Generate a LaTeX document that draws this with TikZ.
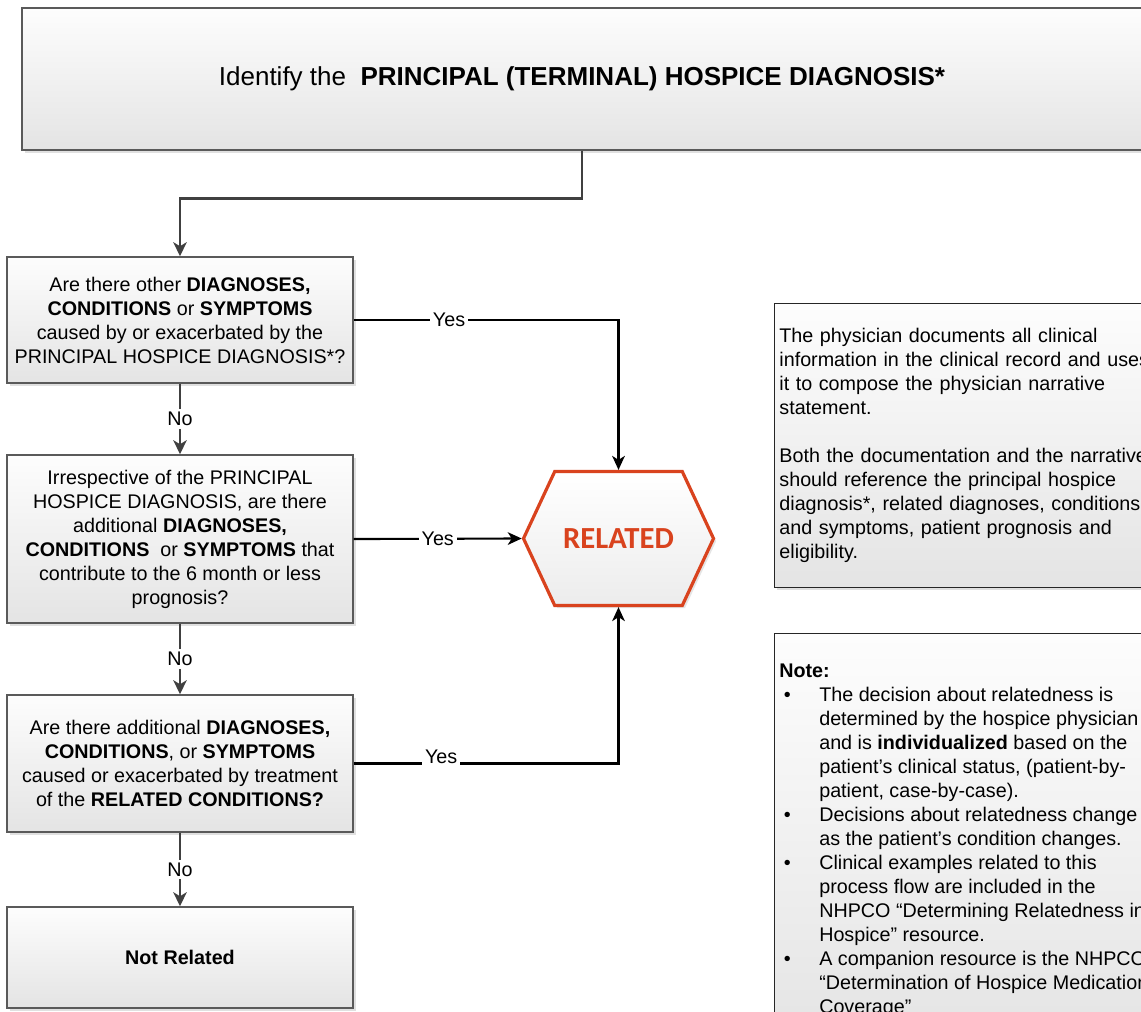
\documentclass[tikz,border=0pt]{standalone}
\usepackage{fontspec}
\setmainfont{Liberation Sans}
\newfontfamily\calfont{Carlito}
\usetikzlibrary{positioning, arrows.meta, shapes.symbols, shadows}
\definecolor{BoxGray}{HTML}{5A5A5A}
\definecolor{ArrowGray}{HTML}{404040}
\definecolor{RelatedRed}{HTML}{D9431E}
\definecolor{FillTop}{HTML}{FDFDFD}
\definecolor{FillBottom}{HTML}{E4E4E4}
\newcommand{\bul}{\makebox[30pt][l]{\hspace{3.5pt}\textbullet}}
\newcommand{\ind}{\hspace*{30pt}}

\begin{document}
\begin{tikzpicture}[x=0.75pt, y=-0.75pt,
    box/.style={rectangle, draw=BoxGray, line width=1.1pt, top color=FillTop, bottom color=FillBottom,
      drop shadow={shadow xshift=2pt, shadow yshift=-2pt, opacity=0.3, fill=black!40},
      align=center, inner sep=0pt, minimum width=259.5pt, font=\fontsize{14.8}{18}\selectfont},
    notebox/.style={box, draw=black!85, align=left, inner xsep=3.5pt, text width=290pt, anchor=north west},
    related/.style={signal, signal to=west and east, signal pointer angle=130, draw=RelatedRed, line width=2.4pt,
      top color=white, bottom color=FillBottom!70,
      drop shadow={shadow xshift=2pt, shadow yshift=-2pt, opacity=0.25, fill=black!40},
      minimum width=142.5pt, minimum height=100.5pt, inner sep=0pt,
      text=RelatedRed, font=\calfont\fontsize{23}{26}\selectfont\bfseries},
    noarrow/.style={-{Stealth[length=10.5pt, width=10pt, inset=3pt]}, line width=2.2pt, ArrowGray},
    yesarrow/.style={-{Stealth[length=10.5pt, width=9.5pt, inset=3pt]}, line width=1.6pt, black},
    lbl/.style={fill=white, inner sep=2pt, text=black, font=\fontsize{14.8}{18}\selectfont}
  ]
  \useasboundingbox (0,0) rectangle (1141,1011);
  \fill[white] (0,0) rectangle (1141,1011);

  % Boxes
  \node[box, minimum width=840pt, minimum height=106.5pt, font=\fontsize{19.5}{24}\selectfont] (identify) at (582,79)
    {Identify the\ \ \textbf{PRINCIPAL (TERMINAL) HOSPICE DIAGNOSIS*}};
  \node[box, minimum height=94.5pt] (q1) at (180,320)
    {Are there other \textbf{DIAGNOSES,}\\ \textbf{CONDITIONS} or \textbf{SYMPTOMS}\\ caused by or exacerbated by the\\ PRINCIPAL HOSPICE DIAGNOSIS*?};
  \node[box, minimum height=126pt] (q2) at (180,539)
    {Irrespective of the PRINCIPAL\\ HOSPICE DIAGNOSIS, are there\\ additional \textbf{DIAGNOSES,}\\ \textbf{CONDITIONS}\ \ or \textbf{SYMPTOMS} that\\ contribute to the 6 month or less\\ prognosis?};
  \node[box, minimum height=102.75pt] (q3) at (180,763.5)
    {Are there additional \textbf{DIAGNOSES,}\\ \textbf{CONDITIONS}, or \textbf{SYMPTOMS}\\ caused or exacerbated by treatment\\ of the \textbf{RELATED CONDITIONS?}};
  \node[box, minimum height=75.75pt] (notrel) at (180,957.5) {\textbf{Not Related}};
  \node[related] (related) at (618.5,538.5) {RELATED};

  % Notes
  \node[notebox, minimum height=213pt] (physician) at (774,303)
    {The physician documents all clinical\\ information in the clinical record and uses\\ it to compose the physician narrative\\ statement.\\[18pt]
     Both the documentation and the narrative\\ should reference the principal hospice\\ diagnosis*, related diagnoses, conditions\\ and symptoms, patient prognosis and\\ eligibility.};
  \node[notebox, minimum height=310pt] (note) at (774,633) {};
  \node[align=left, inner sep=0pt, anchor=north west, font=\fontsize{14.8}{18}\selectfont] (notetext) at (779,664)
    {\textbf{Note:}\\
     \bul The decision about relatedness is\\ \ind determined by the hospice physician\\ \ind and is \textbf{individualized} based on the\\ \ind patient’s clinical status, (patient-by-\\ \ind patient, case-by-case).\\
     \bul Decisions about relatedness change\\ \ind as the patient’s condition changes.\\
     \bul Clinical examples related to this\\ \ind process flow are included in the\\ \ind NHPCO “Determining Relatedness in\\ \ind Hospice” resource.\\
     \bul A companion resource is the NHPCO\\ \ind “Determination of Hospice Medication\\ \ind Coverage”};

  % Arrows
  \draw[noarrow] (identify.south) -- ++(0,48) -| (q1.north);
  \draw[noarrow] (q1) -- node[lbl] {No} (q2);
  \draw[noarrow] (q2) -- node[lbl] {No} (q3);
  \draw[noarrow] (q3) -- node[lbl] {No} (notrel);

  % Yes branches
  \draw[yesarrow] (q1.east) -| node[lbl, pos=0.18] {Yes} (related.north);
  \draw[yesarrow] (q2.east) -- node[lbl] {Yes} (related.west);
  \draw[yesarrow] (q3.east) -| node[lbl, anchor=base, pos=0.165] {Yes} (related.south);
\end{tikzpicture}
\end{document}
